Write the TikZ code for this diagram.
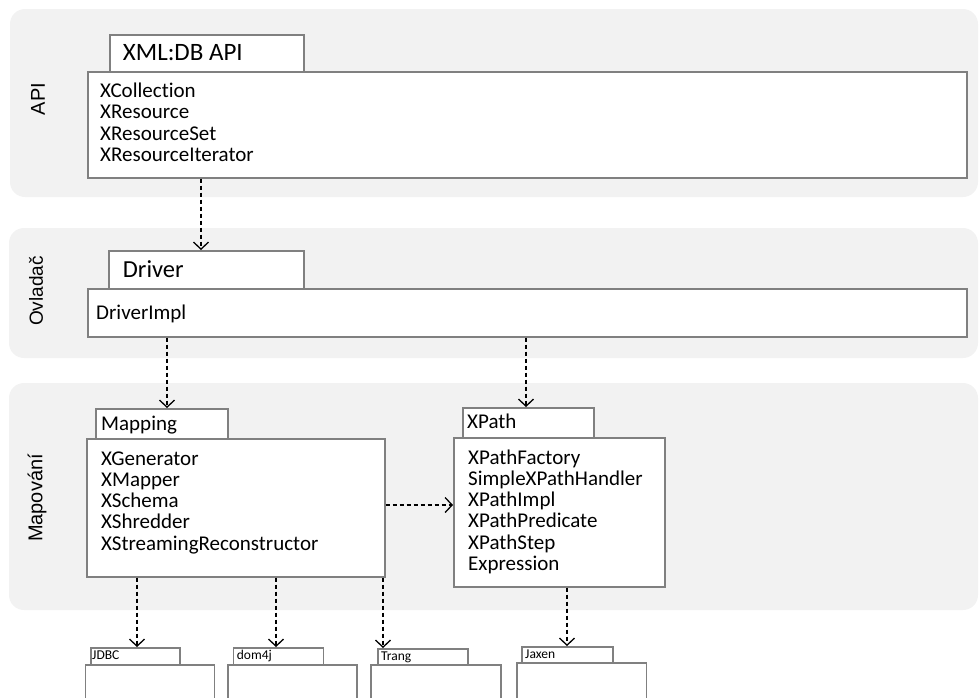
\documentclass[tikz,border=0pt]{standalone}
\usepackage{fontspec}
\setmainfont[Ligatures=NoCommon]{Carlito}
\newfontfamily\lblfont{Liberation Sans}
\usetikzlibrary{arrows.meta}
\definecolor{bandgray}{HTML}{F2F2F2}
\definecolor{boxgray}{HTML}{808080}
\tikzset{
  band/.style={fill=bandgray, draw=none, rounded corners=15pt},
  box/.style={draw=boxgray, line width=1.6pt, fill=white, inner sep=0pt, anchor=north west},
  dep/.style={draw=black, line width=1.3pt, dash pattern=on 4pt off 3pt, -{Straight Barb[length=7pt,width=15pt,line width=1.3pt]}},
  bandlabel/.style={font=\lblfont\fontsize{20}{20}\selectfont, rotate=90, inner sep=0pt},
  title/.style={font=\fontsize{25}{25}\selectfont, anchor=base west, inner sep=0pt},
  subtitle/.style={font=\fontsize{21}{21}\selectfont, anchor=base west, inner sep=0pt},
  item/.style={font=\fontsize{21}{21}\selectfont, anchor=base west, inner sep=0pt},
  tinylabel/.style={font=\fontsize{13.5}{13.5}\selectfont, anchor=base west, inner sep=0pt}
}
\begin{document}
\begin{tikzpicture}[x=1pt,y=-1pt]
\useasboundingbox (0,0) rectangle (979,697);

% bands
\fill[band] (10,9) rectangle (978,197);
\fill[band] (9,228) rectangle (978,358);
\fill[band] (9,383) rectangle (978,610);

% band labels
\node[bandlabel] (lapi) at (38,99) {API};
\node[bandlabel, font=\lblfont\fontsize{19}{19}\selectfont] (ldrv) at (36,291) {Ovladač};
\node[bandlabel] (lmap) at (37,498) {Mapování};

% API
\node[box, minimum width=194pt, minimum height=37pt] (apitab) at (109,34) {};
\node[box, minimum width=879pt, minimum height=106pt] (apibox) at (87,71) {};
\node[title] (apititle) at (122.7,60) {XML:DB API};
\foreach \t [count=\i from 0] in {XCollection,XResource,XResourceSet,XResourceIterator}
  \node[item] (apiitem\i) at (100,97+21.55*\i) {\t};

% Driver
\node[box, minimum width=195pt, minimum height=38pt] (drvtab) at (108,250) {};
\node[box, minimum width=879pt, minimum height=48pt] (drvbox) at (87,288) {};
\node[title, font=\fontsize{24.5}{24.5}\selectfont] (drvtitle) at (122.7,277.3) {Driver};
\node[item] (drvitem) at (96,319) {DriverImpl};

% Mapping
\node[box, minimum width=132pt, minimum height=30pt] (maptab) at (95,408) {};
\node[box, minimum width=298pt, minimum height=138pt] (mapbox) at (86,438) {};
\node[subtitle] (maptitle) at (101,430) {Mapping};
\foreach \t [count=\i from 0] in {XGenerator,XMapper,XSchema,XShredder,XStreamingReconstructor}
  \node[item] (mapitem\i) at (101,465+21.3*\i) {\t};

% XPath
\node[box, minimum width=131pt, minimum height=30pt] (xptab) at (462,407) {};
\node[box, minimum width=211pt, minimum height=149pt] (xpbox) at (453,437) {};
\node[subtitle] (xptitle) at (467,428) {XPath};
\foreach \t [count=\i from 0] in {XPathFactory,SimpleXPathHandler,XPathImpl,XPathPredicate,XPathStep,Expression}
  \node[item] (xpitem\i) at (468,464+21.3*\i) {\t};

% libraries
\node[box, minimum width=89pt, minimum height=17pt] (jdbctab) at (90,647) {};
\node[box, minimum width=129pt, minimum height=50pt] (jdbcbox) at (84.5,664) {};
\node[tinylabel] (jdbclbl) at (92,659.5) {JDBC};

\node[box, minimum width=90pt, minimum height=17pt] (domtab) at (232.5,647) {};
\node[box, minimum width=129pt, minimum height=50pt] (dombox) at (227,664) {};
\node[tinylabel] (domlbl) at (236.7,659.5) {dom4j};

\node[box, minimum width=90pt, minimum height=16pt] (trangtab) at (377,648) {};
\node[box, minimum width=130pt, minimum height=50pt] (trangbox) at (370,664) {};
\node[tinylabel] (tranglbl) at (381,660) {Trang};

\node[box, minimum width=91pt, minimum height=16pt] (jaxtab) at (521,646) {};
\node[box, minimum width=129.5pt, minimum height=50pt] (jaxbox) at (516,662) {};
\node[tinylabel] (jaxlbl) at (525,658) {Jaxen};

% column coordinates
\coordinate (cA) at (201,0);
\coordinate (cB) at (167,0);
\coordinate (cC) at (526,0);
\coordinate (cD) at (137,0);
\coordinate (cE) at (276,0);
\coordinate (cF) at (383,0);
\coordinate (cG) at (567,0);
\coordinate (rH) at (0,505);

% connectors
\draw[dep] (apibox.south -| cA) -- (drvtab.north -| cA);
\draw[dep] (drvbox.south -| cB) -- (maptab.north -| cB);
\draw[dep] (drvbox.south -| cC) -- (xptab.north -| cC);
\draw[dep] (mapbox.east |- rH) -- (xpbox.west |- rH);
\draw[dep] (mapbox.south -| cD) -- (jdbctab.north -| cD);
\draw[dep] (mapbox.south -| cE) -- (domtab.north -| cE);
\draw[dep] (mapbox.south -| cF) -- (trangtab.north -| cF);
\draw[dep] (xpbox.south -| cG) -- (jaxtab.north -| cG);
\end{tikzpicture}
\end{document}
